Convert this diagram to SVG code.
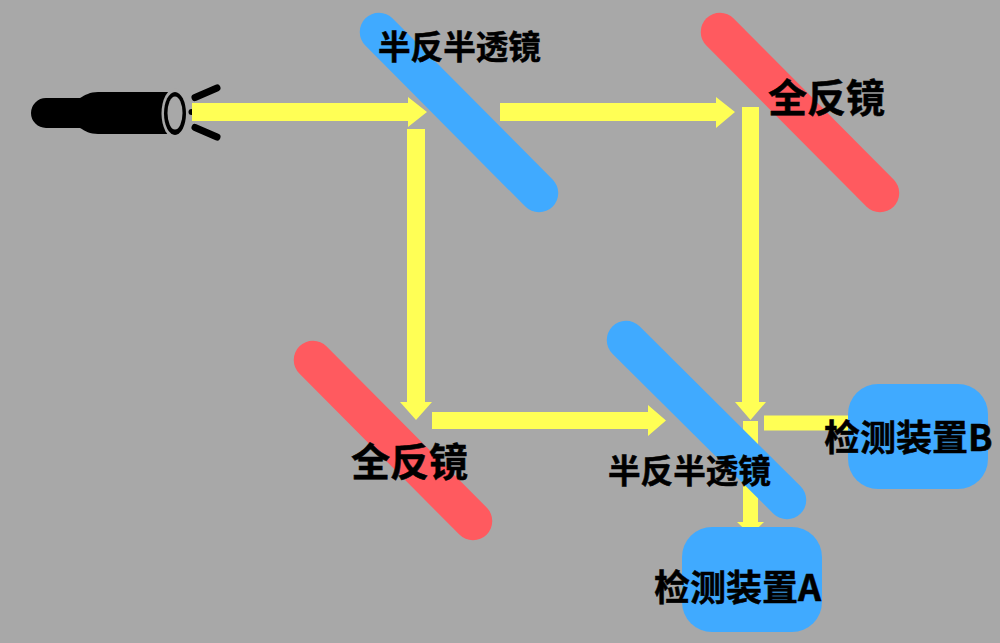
<svg xmlns="http://www.w3.org/2000/svg" width="1000" height="643" viewBox="0 0 1000 643">
<style>
.mirror{fill:none;stroke-width:38.500;stroke-linecap:round}
.half{stroke:#40aaff}
.full{stroke:#ff5a5f}
.beam{fill:#ffff55}
.box{fill:#40aaff}
text{font-family:"Noto Sans CJK SC","Noto Sans",sans-serif;font-weight:700;fill:#000;stroke:#000;stroke-width:.5px}
.t32{font-size:32.6px}
.t39{font-size:39px}
.t36{font-size:36px}
</style>
<rect id="background" width="1000" height="643" fill="#a8a8a8"/>
<g id="light-source">
<path d="M80,98H46a15,15 0 0 0 0,30H80C85,131 90,134 98,134H168V92H98C90,92 85,95 80,98Z" fill="#000"/>
<ellipse cx="175" cy="113.500" rx="13.500" ry="25" fill="#a8a8a8"/>
<ellipse cx="175" cy="113.500" rx="11" ry="21.500" fill="#000"/>
<ellipse cx="175" cy="113" rx="7.500" ry="16.500" fill="#a8a8a8"/>
<circle cx="191.500" cy="112" r="3" fill="#000"/>
<path d="M195,97.500L217,88M195,127.500L217,137" stroke="#000" stroke-width="7" stroke-linecap="round" fill="none"/>
</g>
<g id="connectors">
<polygon class="beam" points="192,103 408,103 408,97 427,112 408,127 408,121 192,121"/>
<polygon class="beam" points="500,103 716,103 716,97 735,112 716,128 716,121 500,121"/>
<polygon class="beam" points="742,107 759,107 759,402 766,402 750.5,420 735,402 742,402"/>
<polygon class="beam" points="407,129 425,129 425,402 432,402 416,420 400,402 407,402"/>
<polygon class="beam" points="432,412 648,412 648,405 666,420.5 648,436 648,429 432,429"/>
<polygon class="beam" points="743,421 758,421 758,522 764,522 750.5,535 737,522 743,522"/>
<rect class="beam" x="764" y="415.500" width="90" height="15"/>
</g>
<g id="mirror-half-1"><line class="mirror half" x1="379" y1="32" x2="539" y2="193"/></g>
<g id="mirror-full-1"><line class="mirror full" x1="720" y1="32" x2="880" y2="193"/></g>
<g id="mirror-full-2"><line class="mirror full" x1="313" y1="360" x2="473" y2="521"/></g>
<g id="mirror-half-2"><line class="mirror half" x1="626" y1="340" x2="787" y2="500"/></g>
<g id="detector-b"><rect class="box" x="848" y="384" width="140" height="105" rx="30"/></g>
<g id="detector-a"><rect class="box" x="682" y="527" width="140" height="105" rx="30"/></g>
<g id="labels">
<text class="t32" x="378" y="59">半反半透镜</text>
<text class="t39" x="768" y="112">全反镜</text>
<text class="t39" x="351" y="476">全反镜</text>
<text class="t32" x="608" y="483">半反半透镜</text>
<text class="t36" x="824" y="451">检测装置B</text>
<text class="t36" x="654" y="601">检测装置A</text>
</g>
</svg>
